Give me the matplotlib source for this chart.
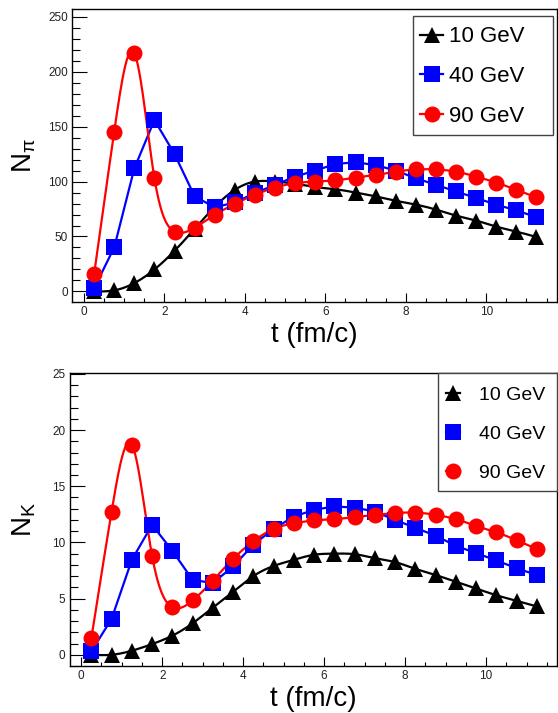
import numpy as np
import matplotlib
matplotlib.use("Agg")
import matplotlib.pyplot as plt
from matplotlib.ticker import MultipleLocator
from matplotlib.patches import Rectangle

plt.rcParams['font.family'] = ['Liberation Sans', 'DejaVu Sans']
plt.rcParams['mathtext.fontset'] = 'custom'
plt.rcParams['mathtext.rm'] = 'Liberation Sans'
plt.rcParams['mathtext.it'] = 'Liberation Sans'
plt.rcParams['mathtext.default'] = 'regular'

# ---------------- data ----------------
t = [0.25, 0.75, 1.25, 1.75, 2.25, 2.75, 3.25, 3.75, 4.25, 4.75, 5.25, 5.75,
     6.25, 6.75, 7.25, 7.75, 8.25, 8.75, 9.25, 9.75, 10.25, 10.75, 11.25]

labels = ["10 GeV", "40 GeV", "90 GeV"]

npi_10 = [0, 1, 7.6, 20, 37, 57, 77, 92.5, 100, 100, 98, 95, 93, 90, 86.5,
          82.5, 79, 74.5, 69, 64.5, 59, 54.5, 49.5]
npi_40 = [3, 40, 112, 156, 125, 86.5, 76.5, 81, 89.5, 97, 104.5, 110, 116,
          117.5, 115, 110, 103, 97, 91, 85, 79, 73.7, 67.6]
npi_90 = [15.8, 145.5, 216.7, 103, 54.5, 58, 69.7, 79.7, 88, 94.5, 98.5, 100,
          101, 103.6, 106, 109, 111, 111, 109, 104.5, 99, 92.5, 85.5]

nk_10 = [0, 0, 0.36, 0.95, 1.7, 2.8, 4.2, 5.6, 7.0, 7.9, 8.45, 8.9, 9.0,
         8.95, 8.6, 8.25, 7.65, 7.1, 6.5, 5.9, 5.3, 4.8, 4.3]
nk_40 = [0.3, 3.2, 8.45, 11.57, 9.25, 6.67, 6.38, 7.86, 9.8, 11.2, 12.3, 12.9,
         13.2, 13.1, 12.75, 12.0, 11.3, 10.6, 9.7, 9.05, 8.4, 7.7, 7.1]
nk_90 = [1.48, 12.75, 18.7, 8.8, 4.24, 4.83, 6.6, 8.54, 10.1, 11.2, 11.7,
         11.95, 12.07, 12.25, 12.45, 12.6, 12.66, 12.45, 12.07, 11.47, 10.9,
         10.2, 9.4]


def natural_spline(x, y, n=600):
    x = np.asarray(x, float)
    y = np.asarray(y, float)
    m = len(x)
    h = np.diff(x)
    A = np.zeros((m, m))
    b = np.zeros(m)
    A[0, 0] = 1
    A[-1, -1] = 1
    for i in range(1, m - 1):
        A[i, i - 1] = h[i - 1]
        A[i, i] = 2 * (h[i - 1] + h[i])
        A[i, i + 1] = h[i]
        b[i] = 6 * ((y[i + 1] - y[i]) / h[i] - (y[i] - y[i - 1]) / h[i - 1])
    M = np.linalg.solve(A, b)
    xs = np.linspace(x[0], x[-1], n)
    idx = np.clip(np.searchsorted(x, xs) - 1, 0, m - 2)
    x0, x1 = x[idx], x[idx + 1]
    hh = x1 - x0
    a = (x1 - xs) / hh
    bb = (xs - x0) / hh
    ys = (a * y[idx] + bb * y[idx + 1]
          + ((a ** 3 - a) * M[idx] + (bb ** 3 - bb) * M[idx + 1]) * hh ** 2 / 6)
    return xs, ys


W, H = 558, 713
fig = plt.figure(figsize=(W / 100, H / 100), dpi=100)


def px_axes(l, tp, r, bt):
    return fig.add_axes([l / W, 1 - bt / H, (r - l) / W, (bt - tp) / H])


def px_rect(ax, l, tp, r, bt):
    x0, y0 = fig.transFigure.transform((l / W, 1 - bt / H))
    x1, y1 = fig.transFigure.transform((r / W, 1 - tp / H))
    inv = ax.transAxes.inverted()
    (ax0, ay0), (ax1_, ay1) = inv.transform([(x0, y0), (x1, y1)])
    return Rectangle((ax0, ay0), ax1_ - ax0, ay1 - ay0, transform=ax.transAxes,
                     facecolor='white', edgecolor='#444444', lw=1.0,
                     clip_on=False, zorder=4)


ax1 = px_axes(72, 9, 557, 302)
ax2 = px_axes(69.5, 373.3, 557, 666)

series_styles = [
    dict(color='black', marker='^', ms=11, smooth=True),
    dict(color='#0000ff', marker='s', ms=11.5, smooth=False),
    dict(color='#ff0000', marker='o', ms=11.5, smooth=True),
]


def draw(ax, ys_list):
    handles = []
    for ys, st, lab in zip(ys_list, series_styles, labels):
        if st['smooth']:
            xs, yy = natural_spline(t, ys)
            ax.plot(xs, yy, color=st['color'], lw=1.6, zorder=2)
        else:
            ax.plot(t, ys, color=st['color'], lw=1.6, zorder=2)
        ax.plot(t, ys, ls='none', marker=st['marker'], ms=st['ms'],
                color=st['color'], mec=st['color'], mew=0, zorder=3)
        h, = ax.plot([], [], color=st['color'], lw=1.6, marker=st['marker'],
                     ms=st['ms'], mew=0, label=lab)
        handles.append(h)
    return handles


h1 = draw(ax1, [npi_10, npi_40, npi_90])
h2 = draw(ax2, [nk_10, nk_40, nk_90])

ax1.set_xlim(-0.3, 11.76)
ax1.set_ylim(-9.6, 257)
ax2.set_xlim(-0.29, 11.75)
ax2.set_ylim(-1.0, 25.05)

ax1.yaxis.set_major_locator(MultipleLocator(50))
ax1.yaxis.set_minor_locator(MultipleLocator(10))
ax2.yaxis.set_major_locator(MultipleLocator(5))
ax2.yaxis.set_minor_locator(MultipleLocator(1))

for ax in (ax1, ax2):
    ax.xaxis.set_major_locator(MultipleLocator(2))
    ax.xaxis.set_minor_locator(MultipleLocator(0.5))
    ax.tick_params(axis='both', which='both', direction='in', top=False,
                   right=False, colors='black', labelcolor='#222222',
                   labelsize=8.5, width=0.8)
    ax.tick_params(axis='y', which='major', length=11, pad=3)
    ax.tick_params(axis='y', which='minor', length=5.5)
    ax.tick_params(axis='x', which='major', length=6.5, pad=3)
    ax.tick_params(axis='x', which='minor', length=3.2)
    for s in ax.spines.values():
        s.set_linewidth(1.0)
        s.set_color('black')
    ax.set_xlabel('t (fm/c)', fontsize=20)

ax1.set_ylabel(r'N$_{\pi}$', fontsize=20)
ax2.set_ylabel(r'N$_{K}$', fontsize=20)
ax1.xaxis.set_label_coords(0.5, -0.069)
ax2.xaxis.set_label_coords(0.5, -0.069)
ax1.yaxis.set_label_coords(-0.07, 0.5)
ax2.yaxis.set_label_coords(-0.065, 0.5)

# legend frames (fixed-size boxes, as in the reference)
ax1.add_patch(px_rect(ax1, 413, 16, 553, 135))
ax2.add_patch(px_rect(ax2, 437.7, 373.3, 557, 490.7))

leg1 = ax1.legend(handles=h1, loc='center left',
                  bbox_to_anchor=(420 / W, 1 - 76.5 / H),
                  bbox_transform=fig.transFigure,
                  borderaxespad=0, borderpad=0, fontsize=16,
                  handlelength=1.05, handletextpad=0.25, labelspacing=0.84,
                  frameon=False)
leg1.set_zorder(5)

leg2 = ax2.legend(handles=h2, loc='center left',
                  bbox_to_anchor=(445.7 / W, 1 - 434 / H),
                  bbox_transform=fig.transFigure,
                  borderaxespad=0, borderpad=0, fontsize=14,
                  handlelength=0.72, handletextpad=1.0, labelspacing=1.11,
                  frameon=False)
leg2.set_zorder(5)

fig.savefig('out.png', dpi=100)
